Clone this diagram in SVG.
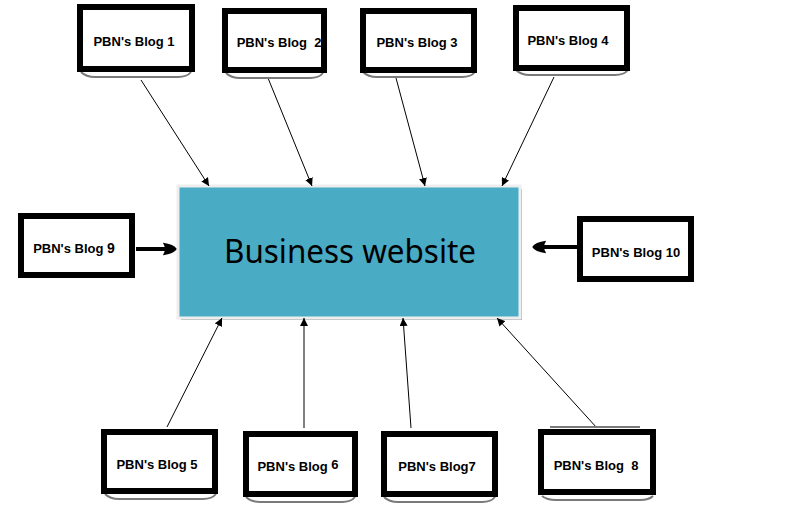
<svg xmlns="http://www.w3.org/2000/svg" width="798" height="505" viewBox="0 0 798 505">
<style>
.box{fill:#fff;stroke:#000;stroke-width:6}
.lbl{font-family:"Liberation Sans",Arial,sans-serif;font-size:13px;font-weight:bold;fill:#000;text-anchor:middle}
.br{fill:none;stroke:#7a7a7a;stroke-width:2}
.ln{stroke:#000;stroke-width:1;fill:none;marker-end:url(#ah)}
.tk{stroke:#000;stroke-width:4;fill:none;marker-end:url(#ah2)}
</style>
<defs>
<marker id="ah" viewBox="0 0 10 10" refX="10" refY="5" markerWidth="8" markerHeight="8" markerUnits="userSpaceOnUse" orient="auto"><path d="M0,0 L10,5 L0,10 z" fill="#000"/></marker>
<marker id="ah2" viewBox="0 0 10 10" refX="8" refY="5" markerWidth="3.5" markerHeight="3.5" orient="auto"><path d="M0,0.5 Q8,1.5 10,5 Q8,8.5 0,9.5 Q3,5 0,0.5 z" fill="#000"/></marker>
</defs>
<g id="main">
<rect x="181" y="189" width="341" height="131" fill="#5a6a70" opacity="0.6"/>
<rect x="178" y="186" width="342" height="132" fill="#4aabc5" stroke="#eeeeee" stroke-width="3"/>
<text x="350" y="263" font-family="Noto Sans,Open Sans,sans-serif" font-size="33" text-anchor="middle" fill="#000" textLength="252" lengthAdjust="spacingAndGlyphs">Business website</text>
</g>
<g id="connectors">
<line class="ln" x1="141" y1="80" x2="209" y2="186"/>
<line class="ln" x1="268" y1="78" x2="312" y2="186"/>
<line class="ln" x1="396" y1="78" x2="425" y2="186"/>
<line class="ln" x1="554" y1="77" x2="502" y2="186"/>
<line class="ln" x1="167" y1="427" x2="222" y2="318"/>
<line class="ln" x1="304" y1="428" x2="304" y2="318"/>
<line class="ln" x1="411" y1="428" x2="403" y2="318"/>
<line class="ln" x1="597" y1="428" x2="497" y2="318"/>
<line class="tk" x1="136" y1="249" x2="174" y2="249"/>
<line class="tk" x1="577" y1="247" x2="535" y2="247"/>
</g>
<g id="blog1"><path class="br" d="M81,72 Q86,77 95,77 L178,77 Q187,77 191,72"/><rect class="box" x="80" y="7" width="112" height="62"/><text class="lbl" x="134" y="46">PBN's Blog 1</text></g>
<g id="blog2"><path class="br" d="M226,73 Q231,78 240,78 L310,78 Q319,78 323,73"/><rect class="box" x="225" y="11" width="99" height="59"/><text class="lbl" x="279" y="47" xml:space="preserve">PBN's Blog  2</text></g>
<g id="blog3"><path class="br" d="M363,72 Q368,77 377,77 L462,77 Q471,77 475,72"/><rect class="box" x="363" y="11" width="111" height="59"/><text class="lbl" x="417" y="47">PBN's Blog 3</text></g>
<g id="blog4"><path class="br" d="M516,70 Q521,75 530,75 L615,75 Q624,75 628,70"/><rect class="box" x="516" y="8" width="111" height="60"/><text class="lbl" x="568" y="45">PBN's Blog 4</text></g>
<g id="blog9"><rect class="box" x="21" y="216" width="111" height="59"/><text class="lbl" x="74" y="253">PBN's Blog <tspan font-size="14">9</tspan></text></g>
<g id="blog10"><rect class="box" x="580" y="219" width="111" height="60"/><text class="lbl" x="636" y="257">PBN's Blog 10</text></g>
<g id="blog5"><path class="br" d="M105,494 Q110,499 119,499 L203,499 Q212,499 216,494"/><rect class="box" x="104" y="432" width="111" height="59"/><text class="lbl" x="157" y="469">PBN's Blog 5</text></g>
<g id="blog6"><path class="br" d="M246,497 Q251,502 260,502 L342,502 Q351,502 355,497"/><rect class="box" x="246" y="434" width="109" height="60"/><text class="lbl" x="298" y="471">PBN's Blog <tspan font-size="13" dy="-2">6</tspan></text></g>
<g id="blog7"><path class="br" d="M384,497 Q389,502 398,502 L482,502 Q491,502 495,497"/><rect class="box" x="384" y="434" width="111" height="60"/><text class="lbl" x="437" y="471">PBN's Blog7</text></g>
<g id="blog8"><path class="br" d="M550,427 L640,427"/><path class="br" d="M542,496 Q547,500 556,500 L640,500 Q649,500 653,496"/><rect class="box" x="541" y="432" width="112" height="60"/><text class="lbl" x="596" y="470" xml:space="preserve">PBN's Blog  8</text></g>
</svg>
